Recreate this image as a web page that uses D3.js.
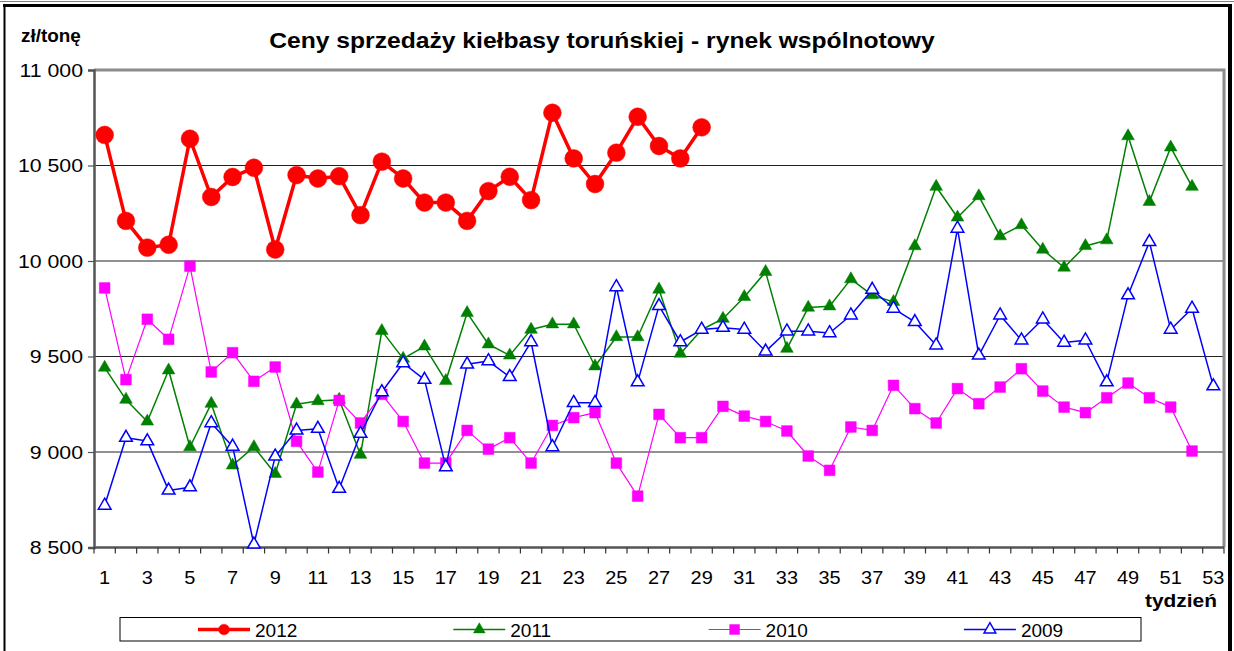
<!DOCTYPE html>
<html>
<head>
<meta charset="utf-8">
<script src="https://cdn.jsdelivr.net/npm/d3@7"></script>
<style>
  body { margin: 0; background: #fff; }
  svg text { font-family: "Liberation Sans", Arial, sans-serif; }
</style>
</head>
<body>
<div id="wykres"></div>
<script>
const tygodnie = d3.range(1, 54);
const etykietyX = tygodnie.filter(t => t % 2 === 1);
const tickiY = [8500, 9000, 9500, 10000, 10500, 11000];

const v2012 = [10660,10210,10070,10085,10640,10335,10440,10488,10060,10450,10432,10444,10240,10520,10432,10306,10306,10210,10366,10441,10319,10776,10537,10403,10567,10755,10602,10537,10700];
const v2011 = [9442,9274,9160,9428,9026,9253,8930,9026,8886,9250,9267,9274,8986,9634,9489,9553,9372,9728,9564,9506,9641,9669,9669,9449,9602,9602,9851,9515,9640,9698,9812,9943,9541,9756,9763,9905,9821,9786,10078,10389,10228,10340,10130,10188,10060,9966,10079,10109,10654,10310,10595,10389];
const v2010 = [9859,9379,9695,9590,9973,9419,9520,9370,9445,9056,8895,9270,9152,9302,9160,8942,8942,9113,9015,9075,8942,9139,9180,9206,8942,8769,9197,9075,9075,9239,9188,9160,9110,8979,8904,9131,9113,9349,9227,9152,9332,9253,9340,9436,9319,9235,9206,9284,9361,9284,9235,9005];
const v2009 = [8720,9075,9057,8799,8816,9152,9029,8516,8977,9113,9122,8808,9096,9314,9466,9379,8921,9459,9476,9393,9576,9026,9258,9258,9864,9366,9765,9576,9641,9651,9641,9527,9632,9632,9623,9716,9850,9751,9681,9559,10170,9506,9716,9585,9695,9573,9585,9366,9821,10100,9641,9751,9345];

const serie = [
    {rok: "2012", wart: v2012, kolor: "#ff0000", grub: 3.5, znak: d3.symbolCircle, rozm: 250, pelny: true},
    {rok: "2011", wart: v2011, kolor: "#008000", grub: 1.5, znak: d3.symbolTriangle, rozm: 70, pelny: true},
    {rok: "2010", wart: v2010, kolor: "#ff00ff", grub: 1.2, znak: d3.symbolSquare, rozm: 115, pelny: true},
    {rok: "2009", wart: v2009, kolor: "#0000ff", grub: 1.5, znak: d3.symbolTriangle, rozm: 70, pelny: false}
];

const W = 1234, H = 651;
const lewo = 94, prawo = 1224, gora = 70, dol = 547.5;

// poszerza napisy (oryginal ma nieco rozciagniety krój)
function rozciagnij(sel, k) {
    sel.each(function() {
        const L = this.getComputedTextLength();
        d3.select(this).attr("textLength", L * k).attr("lengthAdjust", "spacingAndGlyphs");
    });
}

const svg = d3.select("#wykres").append("svg")
    .attr("width", W).attr("height", H);

// ramka zewnetrzna
svg.append("line").attr("x1",0).attr("x2",W).attr("y1",1.5).attr("y2",1.5)
    .attr("stroke","#808080").attr("stroke-width",1);
svg.append("line").attr("x1",3).attr("x2",1232).attr("y1",5.5).attr("y2",5.5)
    .attr("stroke","#000").attr("stroke-width",3);
svg.append("line").attr("x1",4.5).attr("x2",4.5).attr("y1",5).attr("y2",H)
    .attr("stroke","#000").attr("stroke-width",2);
svg.append("line").attr("x1",1230).attr("x2",1230).attr("y1",5).attr("y2",H)
    .attr("stroke","#000").attr("stroke-width",4);

let scx = d3.scaleBand().domain(tygodnie).range([lewo, prawo]);
let scy = d3.scaleLinear([8500, 11000], [dol, gora]);
const srodek = t => scx(t) + scx.bandwidth() / 2;

// siatka
svg.append("g").selectAll("line")
    .data(tickiY.filter(v => v > 8500 && v < 11000))
    .join("line")
    .attr("x1", lewo).attr("x2", prawo)
    .attr("y1", d => scy(d)).attr("y2", d => scy(d))
    .attr("stroke", "#222").attr("stroke-width", 1);

// obramowanie obszaru wykresu
svg.append("path")
    .attr("d", `M${lewo},${gora}H${prawo}V${dol}`)
    .attr("fill","none").attr("stroke","#8c8c8c").attr("stroke-width",3);

// os Y
const fmt = v => d3.format(",")(v).replace(",", " ");
const osY = svg.append("g")
    .attr("transform", `translate(${lewo},0)`)
    .call(d3.axisLeft(scy).tickValues(tickiY).tickFormat(fmt).tickSize(6).tickPadding(5));
osY.select(".domain").attr("stroke","#555").attr("stroke-width",2.5);
osY.selectAll(".tick line").attr("stroke","#555").attr("stroke-width",1.2);
osY.selectAll("text").attr("font-size",19).attr("fill","#000")
    .attr("font-family","Liberation Sans, Arial, sans-serif")
    .call(rozciagnij, 1.12);

// os X
const osX = svg.append("g")
    .attr("transform", `translate(0,${dol})`);
osX.append("line").attr("x1",lewo).attr("x2",prawo)
    .attr("stroke","#555").attr("stroke-width",2.5);
osX.selectAll(".tk")
    .data(tygodnie.concat([54]))
    .join("line")
    .attr("class","tk")
    .attr("x1", d => d === 54 ? prawo : scx(d))
    .attr("x2", d => d === 54 ? prawo : scx(d))
    .attr("y1", 0).attr("y2", 6)
    .attr("stroke","#333").attr("stroke-width",1.2);
osX.selectAll(".et")
    .data(etykietyX)
    .join("text")
    .attr("class","et")
    .attr("x", d => srodek(d))
    .attr("y", 36)
    .attr("text-anchor","middle")
    .attr("font-size",19)
    .text(d => d)
    .call(rozciagnij, 1.05);

// opisy
svg.append("text").attr("x",21).attr("y",42)
    .attr("font-size",18).attr("font-weight","bold").text("zł/tonę")
    .call(rozciagnij, 1.05);
svg.append("text").attr("x",602).attr("y",48)
    .attr("text-anchor","middle").attr("font-size",22).attr("font-weight","bold")
    .text("Ceny sprzedaży kiełbasy toruńskiej - rynek wspólnotowy")
    .call(rozciagnij, 1.12);
svg.append("text").attr("x",1217).attr("y",607)
    .attr("text-anchor","end").attr("font-size",19).attr("font-weight","bold")
    .text("tydzień")
    .call(rozciagnij, 1.1);

// serie
serie.forEach(s => {
    const punkty = s.wart.map((v, i) => ({t: tygodnie[i], v: v}));
    const linia = d3.line().x(d => srodek(d.t)).y(d => scy(d.v));
    const g = svg.append("g");
    g.append("path")
        .datum(punkty)
        .attr("fill","none")
        .attr("stroke", s.kolor)
        .attr("stroke-width", s.grub)
        .attr("stroke-linejoin","round")
        .attr("d", linia);
    g.selectAll("path.znak")
        .data(punkty)
        .join("path")
        .attr("class","znak")
        .attr("transform", d => `translate(${srodek(d.t)},${scy(d.v)})`)
        .attr("d", d3.symbol(s.znak, s.rozm))
        .attr("fill", s.pelny ? s.kolor : "#fff")
        .attr("stroke", s.kolor)
        .attr("stroke-width", s.pelny ? 0.5 : 1.5);
});

// legenda
const leg = svg.append("g");
leg.append("rect").attr("x",120).attr("y",617.5).attr("width",1021).attr("height",23.5)
    .attr("fill","#fff").attr("stroke","#000").attr("stroke-width",1);
const pozycje = serie.map((s, i) => ({s: s, x: 198 + i * 255.3}));
pozycje.forEach(p => {
    const yy = 629.5;
    leg.append("line").attr("x1",p.x).attr("x2",p.x + 52).attr("y1",yy).attr("y2",yy)
        .attr("stroke",p.s.kolor).attr("stroke-width",p.s.grub);
    leg.append("path")
        .attr("transform",`translate(${p.x + 26},${yy})`)
        .attr("d", d3.symbol(p.s.znak, p.s.rok === "2012" ? 90 : p.s.rozm * 0.85))
        .attr("fill", p.s.pelny ? p.s.kolor : "#fff")
        .attr("stroke", p.s.kolor)
        .attr("stroke-width", p.s.pelny ? 0.5 : 1.5);
    leg.append("text").attr("x",p.x + 57).attr("y",yy + 7)
        .attr("font-size",19).text(p.s.rok);
});
</script>
</body>
</html>
